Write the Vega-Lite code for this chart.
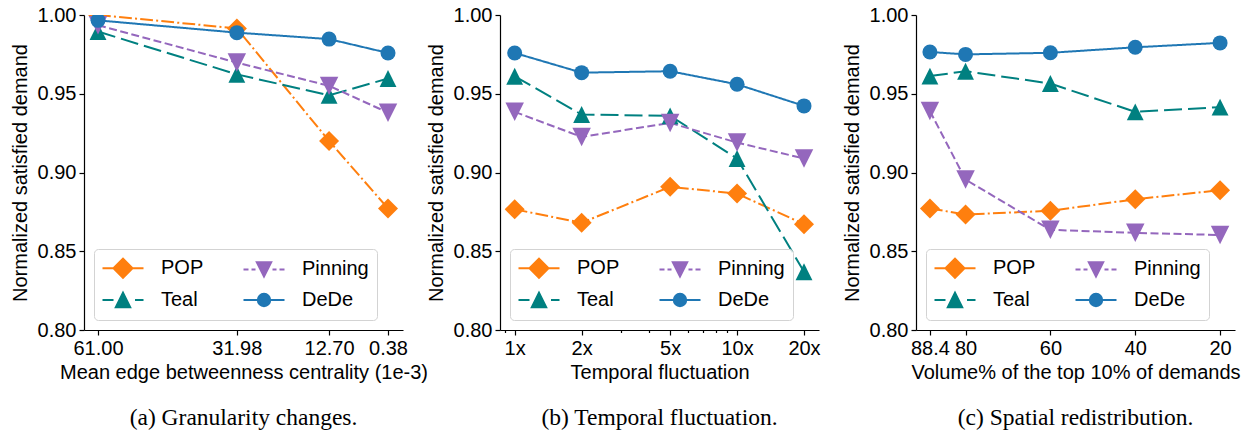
{
  "$schema": "https://vega.github.io/schema/vega-lite/v6.json",
  "padding": {"left": 10, "top": 5, "right": 5, "bottom": 0},
  "datasets": {
    "p1": [
      {"series": "POP", "x": 61.0, "y": 1.0},
      {"series": "POP", "x": 31.98, "y": 0.9915},
      {"series": "POP", "x": 12.7, "y": 0.92},
      {"series": "POP", "x": 0.38, "y": 0.8772},
      {"series": "Teal", "x": 61.0, "y": 0.9895},
      {"series": "Teal", "x": 31.98, "y": 0.9623},
      {"series": "Teal", "x": 12.7, "y": 0.949},
      {"series": "Teal", "x": 0.38, "y": 0.9597},
      {"series": "Pinning", "x": 61.0, "y": 0.9935},
      {"series": "Pinning", "x": 31.98, "y": 0.9698},
      {"series": "Pinning", "x": 12.7, "y": 0.955},
      {"series": "Pinning", "x": 0.38, "y": 0.938},
      {"series": "DeDe", "x": 61.0, "y": 0.9966},
      {"series": "DeDe", "x": 31.98, "y": 0.9888},
      {"series": "DeDe", "x": 12.7, "y": 0.9847},
      {"series": "DeDe", "x": 0.38, "y": 0.9759}
    ],
    "p2": [
      {"series": "POP", "x": 1, "y": 0.8766},
      {"series": "POP", "x": 2, "y": 0.8681},
      {"series": "POP", "x": 5, "y": 0.8909},
      {"series": "POP", "x": 10, "y": 0.8866},
      {"series": "POP", "x": 20, "y": 0.8672},
      {"series": "Teal", "x": 1, "y": 0.9611},
      {"series": "Teal", "x": 2, "y": 0.9368},
      {"series": "Teal", "x": 5, "y": 0.936},
      {"series": "Teal", "x": 10, "y": 0.9089},
      {"series": "Teal", "x": 20, "y": 0.837},
      {"series": "Pinning", "x": 1, "y": 0.9385},
      {"series": "Pinning", "x": 2, "y": 0.9226},
      {"series": "Pinning", "x": 5, "y": 0.9315},
      {"series": "Pinning", "x": 10, "y": 0.919},
      {"series": "Pinning", "x": 20, "y": 0.9089},
      {"series": "DeDe", "x": 1, "y": 0.9759},
      {"series": "DeDe", "x": 2, "y": 0.9634},
      {"series": "DeDe", "x": 5, "y": 0.9643},
      {"series": "DeDe", "x": 10, "y": 0.956},
      {"series": "DeDe", "x": 20, "y": 0.9423}
    ],
    "p3": [
      {"series": "POP", "x": 88.4, "y": 0.8772},
      {"series": "POP", "x": 80, "y": 0.8733},
      {"series": "POP", "x": 60, "y": 0.8757},
      {"series": "POP", "x": 40, "y": 0.883},
      {"series": "POP", "x": 20, "y": 0.8888},
      {"series": "Teal", "x": 88.4, "y": 0.9612},
      {"series": "Teal", "x": 80, "y": 0.9643},
      {"series": "Teal", "x": 60, "y": 0.9565},
      {"series": "Teal", "x": 40, "y": 0.9385},
      {"series": "Teal", "x": 20, "y": 0.9415},
      {"series": "Pinning", "x": 88.4, "y": 0.939},
      {"series": "Pinning", "x": 80, "y": 0.8955},
      {"series": "Pinning", "x": 60, "y": 0.8636},
      {"series": "Pinning", "x": 40, "y": 0.8617},
      {"series": "Pinning", "x": 20, "y": 0.8603},
      {"series": "DeDe", "x": 88.4, "y": 0.9765},
      {"series": "DeDe", "x": 80, "y": 0.975},
      {"series": "DeDe", "x": 60, "y": 0.976},
      {"series": "DeDe", "x": 40, "y": 0.9795},
      {"series": "DeDe", "x": 20, "y": 0.9823}
    ]
  },
  "spacing": 97,
  "bounds": "flush",
  "hconcat": [
    {
      "data": {"name": "p1"},
      "width": 319,
      "height": 315,
      "title": {"text": "(a) Granularity changes."},
      "encoding": {
        "x": {"field": "x", "type": "quantitative",
              "scale": {"domain": [-2.75, 63.93], "reverse": true, "nice": false, "zero": false},
              "axis": {"title": "Mean edge betweenness centrality (1e-3)", "values": [61, 31.98, 12.7, 0.38], "format": ".2f"}},
        "y": {"field": "y", "type": "quantitative",
              "scale": {"domain": [0.8, 1.0], "nice": false, "zero": false},
              "axis": {"title": "Normalized satisfied demand", "values": [0.8, 0.85, 0.9, 0.95, 1.0], "format": ".2f"}}
      },
      "layer": [
        {"mark": {"type": "line", "strokeWidth": 2, "clip": true},
         "encoding": {
           "color": {"field": "series", "type": "nominal", "legend": null,
                     "scale": {"domain": ["POP", "Pinning", "Teal", "DeDe"], "range": ["#ff7f0e", "#9467bd", "#008080", "#1f77b4"]}},
           "strokeDash": {"field": "series", "type": "nominal", "legend": null,
                     "scale": {"domain": ["POP", "Pinning", "Teal", "DeDe"], "range": [[12.8, 3.2, 2, 3.2], [8, 3.5], [18, 6], [1, 0]]}}
         }},
        {"mark": {"type": "point", "filled": true, "opacity": 1, "clip": true},
         "encoding": {
           "color": {"field": "series", "type": "nominal", "legend": null,
                     "scale": {"domain": ["POP", "Pinning", "Teal", "DeDe"], "range": ["#ff7f0e", "#9467bd", "#008080", "#1f77b4"]}},
           "shape": {"field": "series", "type": "nominal", "legend": null,
                     "scale": {"domain": ["POP", "Pinning", "Teal", "DeDe"], "range": ["diamond", "M0,1L-1,-1L1,-1Z", "M0,-1L-1,1L1,1Z", "circle"]}},
           "size": {"field": "series", "type": "nominal", "legend": null,
                     "scale": {"domain": ["POP", "Pinning", "Teal", "DeDe"], "range": [400, 225, 225, 196]}}
         }},
        {"transform": [{"filter": "datum.series == 'none'"}],
         "mark": {"type": "point", "filled": true, "opacity": 1, "size": 400},
         "encoding": {
           "fill": {"field": "series", "type": "nominal", "legend": {"title": null},
                    "scale": {"domain": ["POP", "Pinning", "Teal", "DeDe"], "range": ["#ff7f0e", "#9467bd", "#008080", "#1f77b4"]}},
           "stroke": {"field": "series", "type": "nominal", "legend": {"title": null},
                    "scale": {"domain": ["POP", "Pinning", "Teal", "DeDe"], "range": ["#ff7f0e", "#9467bd", "#008080", "#1f77b4"]}},
           "shape": {"field": "series", "type": "nominal", "legend": {"title": null},
                    "scale": {"domain": ["POP", "Pinning", "Teal", "DeDe"], "range": [
                      "M-2.05,0H-0.85M0.85,0H2.05M-0.95,0L0,-0.95L0.95,0L0,0.95Z",
                      "M-2.05,0H-1.55M-1.25,0H-0.85M0.85,0H1.25M1.55,0H2.05M0,0.72L-0.72,-0.72L0.72,-0.72Z",
                      "M-2.05,0H-0.95M1.2,0H2.05M0,-0.72L-0.72,0.72L0.72,0.72Z",
                      "M-2.05,0H2.05M0.62,0A0.62,0.62,0,1,1,-0.62,0A0.62,0.62,0,1,1,0.62,0Z"]}}
         }}
      ],
      "resolve": {"scale": {"shape": "independent", "fill": "independent", "stroke": "independent"}}
    },
    {
      "data": {"name": "p2"},
      "width": 319,
      "height": 315,
      "title": {"text": "(b) Temporal fluctuation."},
      "encoding": {
        "x": {"field": "x", "type": "quantitative",
              "scale": {"type": "log", "domain": [0.859, 23.36], "nice": false},
              "axis": {"title": "Temporal fluctuation", "values": [0.9, 1, 2, 3, 4, 5, 6, 7, 8, 9, 10, 20],
                       "labelExpr": "indexof([1,2,5,10,20], datum.value) >= 0 ? datum.value + 'x' : ''",
                       "tickSize": {"condition": {"test": "indexof([1,2,5,10,20], datum.value) < 0", "value": 2.5}, "value": 5}}},
        "y": {"field": "y", "type": "quantitative",
              "scale": {"domain": [0.8, 1.0], "nice": false, "zero": false},
              "axis": {"title": "Normalized satisfied demand", "values": [0.8, 0.85, 0.9, 0.95, 1.0], "format": ".2f"}}
      },
      "layer": [
        {"mark": {"type": "line", "strokeWidth": 2, "clip": true},
         "encoding": {
           "color": {"field": "series", "type": "nominal", "legend": null,
                     "scale": {"domain": ["POP", "Pinning", "Teal", "DeDe"], "range": ["#ff7f0e", "#9467bd", "#008080", "#1f77b4"]}},
           "strokeDash": {"field": "series", "type": "nominal", "legend": null,
                     "scale": {"domain": ["POP", "Pinning", "Teal", "DeDe"], "range": [[12.8, 3.2, 2, 3.2], [8, 3.5], [18, 6], [1, 0]]}}
         }},
        {"mark": {"type": "point", "filled": true, "opacity": 1, "clip": true},
         "encoding": {
           "color": {"field": "series", "type": "nominal", "legend": null,
                     "scale": {"domain": ["POP", "Pinning", "Teal", "DeDe"], "range": ["#ff7f0e", "#9467bd", "#008080", "#1f77b4"]}},
           "shape": {"field": "series", "type": "nominal", "legend": null,
                     "scale": {"domain": ["POP", "Pinning", "Teal", "DeDe"], "range": ["diamond", "M0,1L-1,-1L1,-1Z", "M0,-1L-1,1L1,1Z", "circle"]}},
           "size": {"field": "series", "type": "nominal", "legend": null,
                     "scale": {"domain": ["POP", "Pinning", "Teal", "DeDe"], "range": [400, 225, 225, 196]}}
         }},
        {"transform": [{"filter": "datum.series == 'none'"}],
         "mark": {"type": "point", "filled": true, "opacity": 1, "size": 400},
         "encoding": {
           "fill": {"field": "series", "type": "nominal", "legend": {"title": null},
                    "scale": {"domain": ["POP", "Pinning", "Teal", "DeDe"], "range": ["#ff7f0e", "#9467bd", "#008080", "#1f77b4"]}},
           "stroke": {"field": "series", "type": "nominal", "legend": {"title": null},
                    "scale": {"domain": ["POP", "Pinning", "Teal", "DeDe"], "range": ["#ff7f0e", "#9467bd", "#008080", "#1f77b4"]}},
           "shape": {"field": "series", "type": "nominal", "legend": {"title": null},
                    "scale": {"domain": ["POP", "Pinning", "Teal", "DeDe"], "range": [
                      "M-2.05,0H-0.85M0.85,0H2.05M-0.95,0L0,-0.95L0.95,0L0,0.95Z",
                      "M-2.05,0H-1.55M-1.25,0H-0.85M0.85,0H1.25M1.55,0H2.05M0,0.72L-0.72,-0.72L0.72,-0.72Z",
                      "M-2.05,0H-0.95M1.2,0H2.05M0,-0.72L-0.72,0.72L0.72,0.72Z",
                      "M-2.05,0H2.05M0.62,0A0.62,0.62,0,1,1,-0.62,0A0.62,0.62,0,1,1,0.62,0Z"]}}
         }}
      ],
      "resolve": {"scale": {"shape": "independent", "fill": "independent", "stroke": "independent"}}
    },
    {
      "data": {"name": "p3"},
      "width": 319,
      "height": 315,
      "title": {"text": "(c) Spatial redistribution."},
      "encoding": {
        "x": {"field": "x", "type": "quantitative",
              "scale": {"domain": [16.48, 91.68], "reverse": true, "nice": false, "zero": false},
              "axis": {"title": "Volume% of the top 10% of demands", "values": [88.4, 80, 60, 40, 20], "labelExpr": "'' + datum.value"}},
        "y": {"field": "y", "type": "quantitative",
              "scale": {"domain": [0.8, 1.0], "nice": false, "zero": false},
              "axis": {"title": "Normalized satisfied demand", "values": [0.8, 0.85, 0.9, 0.95, 1.0], "format": ".2f"}}
      },
      "layer": [
        {"mark": {"type": "line", "strokeWidth": 2, "clip": true},
         "encoding": {
           "color": {"field": "series", "type": "nominal", "legend": null,
                     "scale": {"domain": ["POP", "Pinning", "Teal", "DeDe"], "range": ["#ff7f0e", "#9467bd", "#008080", "#1f77b4"]}},
           "strokeDash": {"field": "series", "type": "nominal", "legend": null,
                     "scale": {"domain": ["POP", "Pinning", "Teal", "DeDe"], "range": [[12.8, 3.2, 2, 3.2], [8, 3.5], [18, 6], [1, 0]]}}
         }},
        {"mark": {"type": "point", "filled": true, "opacity": 1, "clip": true},
         "encoding": {
           "color": {"field": "series", "type": "nominal", "legend": null,
                     "scale": {"domain": ["POP", "Pinning", "Teal", "DeDe"], "range": ["#ff7f0e", "#9467bd", "#008080", "#1f77b4"]}},
           "shape": {"field": "series", "type": "nominal", "legend": null,
                     "scale": {"domain": ["POP", "Pinning", "Teal", "DeDe"], "range": ["diamond", "M0,1L-1,-1L1,-1Z", "M0,-1L-1,1L1,1Z", "circle"]}},
           "size": {"field": "series", "type": "nominal", "legend": null,
                     "scale": {"domain": ["POP", "Pinning", "Teal", "DeDe"], "range": [400, 225, 225, 196]}}
         }},
        {"transform": [{"filter": "datum.series == 'none'"}],
         "mark": {"type": "point", "filled": true, "opacity": 1, "size": 400},
         "encoding": {
           "fill": {"field": "series", "type": "nominal", "legend": {"title": null},
                    "scale": {"domain": ["POP", "Pinning", "Teal", "DeDe"], "range": ["#ff7f0e", "#9467bd", "#008080", "#1f77b4"]}},
           "stroke": {"field": "series", "type": "nominal", "legend": {"title": null},
                    "scale": {"domain": ["POP", "Pinning", "Teal", "DeDe"], "range": ["#ff7f0e", "#9467bd", "#008080", "#1f77b4"]}},
           "shape": {"field": "series", "type": "nominal", "legend": {"title": null},
                    "scale": {"domain": ["POP", "Pinning", "Teal", "DeDe"], "range": [
                      "M-2.05,0H-0.85M0.85,0H2.05M-0.95,0L0,-0.95L0.95,0L0,0.95Z",
                      "M-2.05,0H-1.55M-1.25,0H-0.85M0.85,0H1.25M1.55,0H2.05M0,0.72L-0.72,-0.72L0.72,-0.72Z",
                      "M-2.05,0H-0.95M1.2,0H2.05M0,-0.72L-0.72,0.72L0.72,0.72Z",
                      "M-2.05,0H2.05M0.62,0A0.62,0.62,0,1,1,-0.62,0A0.62,0.62,0,1,1,0.62,0Z"]}}
         }}
      ],
      "resolve": {"scale": {"shape": "independent", "fill": "independent", "stroke": "independent"}}
    }
  ],
  "resolve": {"scale": {"color": "independent", "fill": "independent", "stroke": "independent", "shape": "independent", "size": "independent", "strokeDash": "independent"}},
  "config": {
    "view": {"stroke": null},
    "font": "Liberation Sans",
    "axis": {
      "domainColor": "#000", "domainWidth": 1.2, "tickColor": "#000", "tickWidth": 1.2, "tickSize": 5,
      "labelFont": "Liberation Sans", "labelFontSize": 20, "labelColor": "#000", "labelPadding": 3,
      "titleFont": "Liberation Sans", "titleFontSize": 20, "titleFontWeight": "normal", "titleColor": "#000",
      "grid": false, "labelFlush": false, "labelOverlap": false
    },
    "axisY": {"titlePadding": 7},
    "axisX": {"titlePadding": 4},
    "legend": {
      "orient": "bottom-left", "direction": "horizontal", "offset": 10, "columns": 2, "columnPadding": 35, "rowPadding": 6, "padding": 8,
      "fillColor": "rgba(255,255,255,0.85)", "strokeColor": "#d3d3d3", "cornerRadius": 4,
      "labelFont": "Liberation Sans", "labelFontSize": 20, "labelColor": "#000", "labelLimit": 200,
      "symbolSize": 400, "symbolStrokeWidth": 2, "symbolOffset": 10, "labelOffset": 27
    },
    "title": {"font": "Liberation Serif", "fontSize": 23.5, "fontWeight": "normal", "color": "#000", "orient": "bottom", "offset": 24, "anchor": "middle"}
  }
}
